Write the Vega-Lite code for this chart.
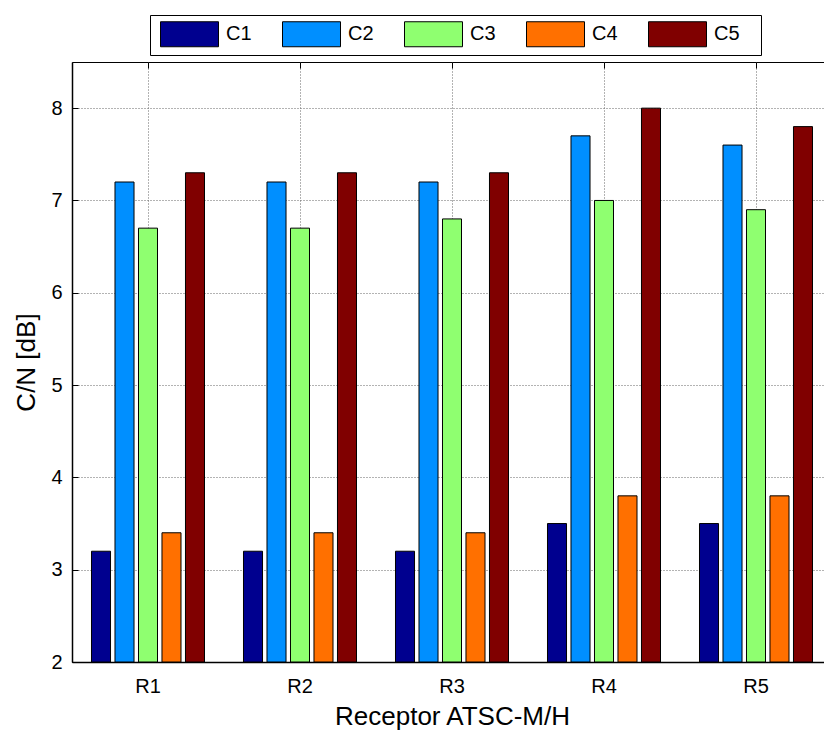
{
  "$schema": "https://vega.github.io/schema/vega-lite/v6.json",
  "width": 760,
  "height": 600,
  "autosize": {"type": "none"},
  "padding": {"left": 72, "top": 62, "right": 0, "bottom": 68},
  "config": {
    "font": "Liberation Sans",
    "view": {"stroke": "black", "strokeWidth": 1},
    "axis": {
      "labelFontSize": 20,
      "labelColor": "black",
      "titleFontSize": 26,
      "titleFontWeight": "normal",
      "titleColor": "black",
      "domainColor": "black",
      "domainWidth": 1.5,
      "tickColor": "black",
      "tickSize": -6,
      "gridColor": "#666",
      "gridDash": [1, 2],
      "gridOpacity": 1,
      "gridWidth": 1
    }
  },
  "data": {
    "values": [
      {"receptor": "R1", "serie": "C1", "cn": 3.2},
      {"receptor": "R1", "serie": "C2", "cn": 7.2},
      {"receptor": "R1", "serie": "C3", "cn": 6.7},
      {"receptor": "R1", "serie": "C4", "cn": 3.4},
      {"receptor": "R1", "serie": "C5", "cn": 7.3},
      {"receptor": "R2", "serie": "C1", "cn": 3.2},
      {"receptor": "R2", "serie": "C2", "cn": 7.2},
      {"receptor": "R2", "serie": "C3", "cn": 6.7},
      {"receptor": "R2", "serie": "C4", "cn": 3.4},
      {"receptor": "R2", "serie": "C5", "cn": 7.3},
      {"receptor": "R3", "serie": "C1", "cn": 3.2},
      {"receptor": "R3", "serie": "C2", "cn": 7.2},
      {"receptor": "R3", "serie": "C3", "cn": 6.8},
      {"receptor": "R3", "serie": "C4", "cn": 3.4},
      {"receptor": "R3", "serie": "C5", "cn": 7.3},
      {"receptor": "R4", "serie": "C1", "cn": 3.5},
      {"receptor": "R4", "serie": "C2", "cn": 7.7},
      {"receptor": "R4", "serie": "C3", "cn": 7.0},
      {"receptor": "R4", "serie": "C4", "cn": 3.8},
      {"receptor": "R4", "serie": "C5", "cn": 8.0},
      {"receptor": "R5", "serie": "C1", "cn": 3.5},
      {"receptor": "R5", "serie": "C2", "cn": 7.6},
      {"receptor": "R5", "serie": "C3", "cn": 6.9},
      {"receptor": "R5", "serie": "C4", "cn": 3.8},
      {"receptor": "R5", "serie": "C5", "cn": 7.8}
    ]
  },
  "resolve": {"axis": {"x": "independent", "y": "independent"}},
  "layer": [
    {
      "mark": {"type": "bar", "stroke": "black", "strokeWidth": 1},
      "encoding": {
        "x": {
          "field": "receptor",
          "type": "nominal",
          "scale": {"paddingInner": 0, "paddingOuter": 0},
          "axis": {
            "title": "Receptor ATSC-M/H",
            "labelAngle": 0,
            "bandPosition": 0.5,
            "grid": true,
            "labelPadding": 20,
            "titlePadding": 7
          }
        },
        "xOffset": {
          "field": "serie",
          "type": "nominal",
          "scale": {"paddingInner": 0.19, "paddingOuter": 0.83}
        },
        "y": {
          "field": "cn",
          "type": "quantitative",
          "scale": {"domain": [2, 8.5], "nice": false, "zero": false},
          "axis": {
            "values": [2, 3, 4, 5, 6, 7, 8],
            "title": "C/N [dB]",
            "grid": true,
            "labelPadding": 16,
            "titlePadding": 11
          }
        },
        "y2": {"datum": 2},
        "color": {
          "field": "serie",
          "type": "nominal",
          "scale": {
            "domain": ["C1", "C2", "C3", "C4", "C5"],
            "range": ["#00008F", "#008FFF", "#8FFF70", "#FF7000", "#800000"]
          },
          "legend": {
            "orient": "none",
            "legendX": 78,
            "legendY": -47,
            "direction": "horizontal",
            "columns": 5,
            "title": null,
            "symbolType": "M-0.68,-1H3.96V1H-0.68Z",
            "symbolSize": 625,
            "symbolStrokeColor": "black",
            "symbolStrokeWidth": 1,
            "symbolOpacity": 1,
            "labelFontSize": 20,
            "labelColor": "black",
            "labelOffset": 44,
            "labelExpr": "datum.label + '\u2800'",
            "columnPadding": 11,
            "padding": 6,
            "strokeColor": "black",
            "fillColor": "white",
            "cornerRadius": 0
          }
        }
      }
    },
    {
      "mark": {"type": "bar", "opacity": 0},
      "encoding": {
        "x": {
          "field": "receptor",
          "type": "nominal",
          "axis": {
            "orient": "top",
            "title": null,
            "labels": false,
            "domain": false,
            "grid": false,
            "bandPosition": 0.5,
            "tickSize": -6
          }
        },
        "y": {
          "field": "cn",
          "type": "quantitative",
          "axis": {
            "orient": "right",
            "values": [2, 3, 4, 5, 6, 7, 8],
            "title": null,
            "labels": false,
            "domain": false,
            "grid": false,
            "tickSize": -6
          }
        },
        "y2": {"datum": 2}
      }
    }
  ]
}
